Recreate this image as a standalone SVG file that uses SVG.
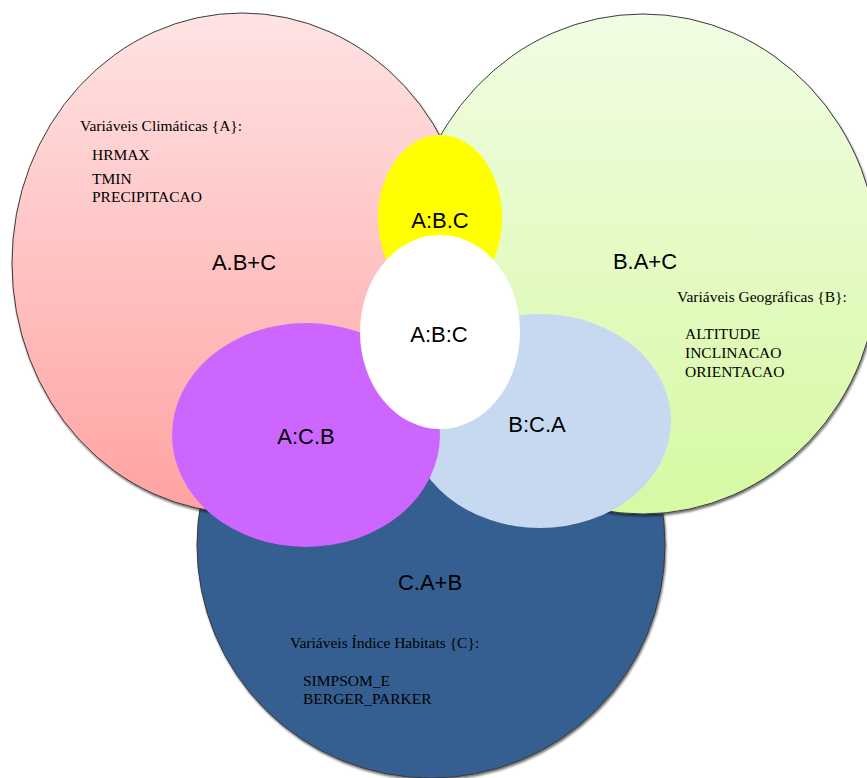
<svg xmlns="http://www.w3.org/2000/svg" width="867" height="778" viewBox="0 0 867 778">
  <defs>
    <linearGradient id="gPink" x1="0" y1="0" x2="0" y2="1">
      <stop offset="0" stop-color="#FFE3E3"/>
      <stop offset="1" stop-color="#FFA2A2"/>
    </linearGradient>
    <linearGradient id="gGreen" x1="0" y1="0" x2="0" y2="1">
      <stop offset="0" stop-color="#F1FDE4"/>
      <stop offset="1" stop-color="#D6F9A2"/>
    </linearGradient>
    <filter id="shadow" x="-5%" y="-5%" width="110%" height="110%">
      <feDropShadow dx="1" dy="2" stdDeviation="1.2" flood-color="#000" flood-opacity="0.55"/>
    </filter>
  </defs>
  <style>
    .outer { stroke: #3a3a3a; stroke-width: 1; filter: url(#shadow); }
    .lbl { font-family: "Liberation Sans", Arial, sans-serif; font-size: 22px; fill: #000; text-anchor: middle; }
    .sm { font-family: "Liberation Serif", "Times New Roman", serif; font-size: 15.5px; fill: #000; }
  </style>

  <g id="setC">
    <ellipse class="outer" cx="431" cy="545" rx="234" ry="233" fill="#365F91"/>
  </g>
  <g id="setA">
    <ellipse class="outer" cx="242" cy="263" rx="230" ry="250" fill="url(#gPink)"/>
  </g>
  <g id="setB">
    <ellipse class="outer" cx="643" cy="264" rx="236" ry="250" fill="url(#gGreen)"/>
  </g>
  <g id="BC">
    <ellipse cx="540" cy="421" rx="131" ry="107" fill="#C6D9F1"/>
  </g>
  <g id="AC">
    <ellipse cx="306" cy="435" rx="134" ry="112" fill="#CC66FF"/>
  </g>
  <g id="AB">
    <ellipse cx="440" cy="218" rx="62" ry="83" fill="#FFFF00"/>
  </g>
  <g id="ABC">
    <ellipse cx="440" cy="332" rx="80" ry="97" fill="#FFFFFF"/>
  </g>

  <g id="labels">
    <text class="lbl" x="244" y="270">A.B+C</text>
    <text class="lbl" x="440" y="228">A:B.C</text>
    <text class="lbl" x="645" y="269">B.A+C</text>
    <text class="lbl" x="439" y="342">A:B:C</text>
    <text class="lbl" x="306" y="444">A:C.B</text>
    <text class="lbl" x="537" y="432">B:C.A</text>
    <text class="lbl" x="430" y="590">C.A+B</text>
  </g>

  <g id="textA">
    <text class="sm" x="80" y="131">Variáveis Climáticas {A}:</text>
    <text class="sm" x="92" y="160">HRMAX</text>
    <text class="sm" x="92" y="184">TMIN</text>
    <text class="sm" x="92" y="202">PRECIPITACAO</text>
  </g>
  <g id="textB">
    <text class="sm" x="677" y="302">Variáveis Geográficas {B}:</text>
    <text class="sm" x="685" y="339">ALTITUDE</text>
    <text class="sm" x="685" y="358">INCLINACAO</text>
    <text class="sm" x="685" y="377">ORIENTACAO</text>
  </g>
  <g id="textC">
    <text class="sm" x="290" y="648">Variáveis Índice Habitats {C}:</text>
    <text class="sm" x="303" y="686">SIMPSOM_E</text>
    <text class="sm" x="303" y="704">BERGER_PARKER</text>
  </g>
</svg>
